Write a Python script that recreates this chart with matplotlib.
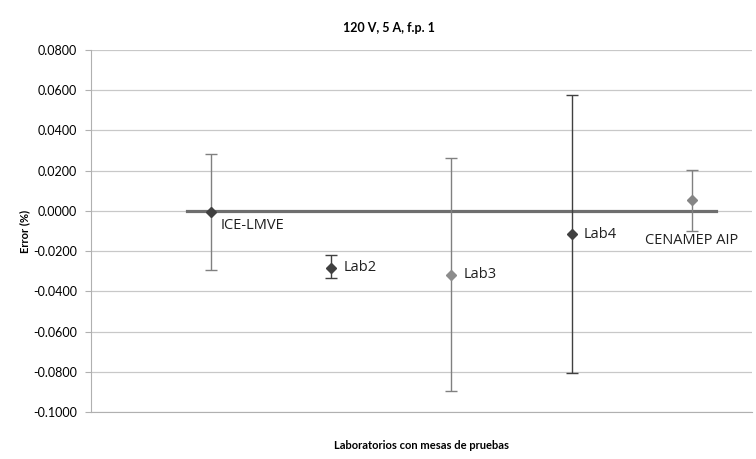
import numpy as np
import matplotlib.pyplot as plt

plt.rcParams['font.family'] = ['Lato', 'DejaVu Sans']

# datos
labs = ['ICE-LMVE', 'Lab2', 'Lab3', 'Lab4', 'CENAMEP AIP']
error = [-0.0004, -0.0284, -0.0318, -0.0116, 0.0053]
err_sup = [0.0283, -0.0219, 0.0262, 0.0576, 0.0202]
err_inf = [-0.0294, -0.0333, -0.0895, -0.0806, -0.0098]
ref_x = [0.8, 5.2]
ref_y = [0.0, 0.0]
yticks = np.arange(-0.1, 0.0801, 0.02)

marker_col = ['#404040', '#404040', '#8c8c8c', '#404040', '#858585']
bar_col = ['#808080', '#404040', '#808080', '#404040', '#808080']
offsets = [(7, -10), (9, 0), (9, 0), (9, 0), (0, -29)]
aligns = [('left', 'center'), ('left', 'center'), ('left', 'center'),
          ('left', 'center'), ('center', 'center')]

fig = plt.figure(figsize=(7.56, 4.59), dpi=100)
ax = fig.add_axes([0.1204, 0.1024, 0.874, 0.7887])

x = np.arange(1, len(labs) + 1)

for s in ['top', 'right']:
    ax.spines[s].set_visible(False)
for s in ['left', 'bottom']:
    ax.spines[s].set_color('#b0b0b0')

ax.yaxis.grid(True, color='#c8c8c8', lw=0.9)
ax.set_axisbelow(True)

ax.plot(ref_x, ref_y, color='#6e6e6e', lw=2.3, zorder=2)

for i in range(len(labs)):
    yerr = [[error[i] - err_inf[i]], [err_sup[i] - error[i]]]
    ax.errorbar(x[i], error[i], yerr=yerr, fmt='D', ms=5.5,
                color=marker_col[i], ecolor=bar_col[i], elinewidth=1,
                capsize=4, capthick=1, zorder=3)
    ax.annotate(labs[i], (x[i], error[i]), xytext=offsets[i],
                textcoords='offset points', ha=aligns[i][0],
                va=aligns[i][1], fontsize=10.5, color='#202020',
                family=['Open Sans', 'DejaVu Sans'])

ax.set_xlim(0, 5.5)
ax.set_ylim(-0.1, 0.08)
ax.set_xticks([])
ax.set_yticks(yticks)
ax.set_yticklabels(['%.4f' % v if abs(v) > 1e-9 else '0.0000' for v in yticks],
                   fontsize=9)
ax.tick_params(axis='y', length=4, color='#b0b0b0', pad=6)

fig.text(0.514, 0.939, '120 V, 5 A, f.p. 1', fontsize=9, fontweight='bold',
         ha='center', va='center')
ax.set_ylabel('Error (%)', fontsize=8, fontweight='bold', labelpad=2)
ax.set_xlabel('Laboratorios con mesas de pruebas', fontsize=8,
              fontweight='bold', labelpad=20)

fig.savefig('out.png', dpi=100)
